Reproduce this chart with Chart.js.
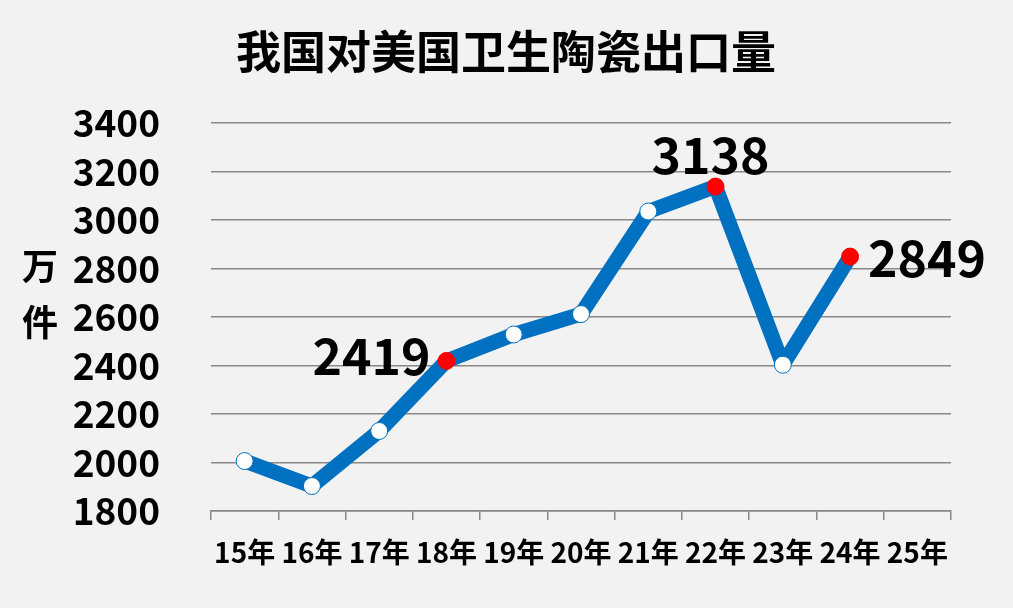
<!DOCTYPE html>
<html>
<head>
<meta charset="utf-8">
<script src="https://cdn.jsdelivr.net/npm/chart.js@4.4.0/dist/chart.umd.min.js"></script>
<style>
  html, body { margin: 0; padding: 0; background: #f2f2f2; }
  #wrap { width: 1013px; height: 608px; }
</style>
</head>
<body>
<div id="wrap"><canvas id="myChart" width="1013" height="608"></canvas></div>
<script>
// data
const years = ['15年', '16年', '17年', '18年', '19年', '20年', '21年', '22年', '23年', '24年', '25年'];
const exportVolume = [2006, 1903, 2130, 2419, 2528, 2612, 3035, 3138, 2403, 2849, null];
const labelledPoints = [3, 7, 9];           // points shown in red with their value
const labelSides = ['left', 'top', 'right']; // where each value label sits
const chartTitle = '我国对美国卫生陶瓷出口量';
const unitLabel = ['万', '件'];
const yMin = 1800, yMax = 3400, yStep = 200;

const FONT = '"Noto Sans CJK SC", "Noto Sans", sans-serif';
const BLUE = '#0070c0';

const pointFill = exportVolume.map((v, i) => labelledPoints.includes(i) ? '#ff0000' : '#ffffff');
const pointEdge = exportVolume.map((v, i) => labelledPoints.includes(i) ? '#ff0000' : BLUE);
const pointSize = exportVolume.map((v, i) => labelledPoints.includes(i) ? 8.5 : 8.5);

const textPlugin = {
    id: 'text_plugin',
    afterDatasetsDraw: (chart) => {
        const {ctx} = chart;
        const meta = chart.getDatasetMeta(0);
        ctx.save();
        ctx.fillStyle = '#000';

        // title
        ctx.font = 'bold 45px ' + FONT;
        ctx.textAlign = 'center';
        ctx.textBaseline = 'middle';
        ctx.fillText(chartTitle, 506, 52);

        // unit, stacked vertically
        ctx.font = 'bold 36px ' + FONT;
        ctx.fillText(unitLabel[0], 40, 266);
        ctx.fillText(unitLabel[1], 40, 322);

        // value labels
        ctx.font = 'bold 50px ' + FONT;
        labelledPoints.forEach((idx, k) => {
            const pt = meta.data[idx];
            const side = labelSides[k];
            const text = String(exportVolume[idx]);
            if (side === 'left') {
                ctx.textAlign = 'right';
                ctx.fillText(text, pt.x - 16, pt.y - 5);
            } else if (side === 'top') {
                ctx.textAlign = 'center';
                ctx.fillText(text, pt.x - 5, pt.y - 32);
            } else {
                ctx.textAlign = 'left';
                ctx.fillText(text, pt.x + 18, pt.y + 1);
            }
        });
        ctx.restore();
    }
};

const ctx = document.getElementById('myChart').getContext('2d');
new Chart(ctx, {
    type: 'line',
    data: {
        labels: years,
        datasets: [{
            label: '出口量',
            data: exportVolume,
            borderColor: BLUE,
            borderWidth: 15,
            borderJoinStyle: 'round',
            borderCapStyle: 'round',
            tension: 0,
            pointBackgroundColor: pointFill,
            pointBorderColor: pointEdge,
            pointBorderWidth: 1,
            pointRadius: pointSize,
            pointHoverRadius: pointSize
        }]
    },
    options: {
        responsive: false,
        animation: false,
        events: [],
        layout: { padding: { top: 123, right: 62, bottom: 0, left: 0 } },
        plugins: {
            legend: { display: false },
            title: { display: false },
            tooltip: { enabled: false }
        },
        scales: {
            x: {
                type: 'category',
                offset: true,
                afterFit: (scale) => { scale.height = 97; },
                grid: {
                    offset: true,
                    drawOnChartArea: false,
                    drawTicks: true,
                    tickLength: 9,
                    color: '#888888',
                    lineWidth: 1.5
                },
                border: { display: true, color: '#888888', width: 1.5 },
                ticks: {
                    color: '#000',
                    padding: 16,
                    maxRotation: 0,
                    autoSkip: false,
                    font: { family: FONT, size: 28, weight: 'bold' }
                }
            },
            y: {
                min: yMin,
                max: yMax,
                afterFit: (scale) => { scale.width = 211; },
                grid: {
                    drawTicks: false,
                    color: '#888888',
                    lineWidth: 1.5
                },
                border: { display: false },
                ticks: {
                    stepSize: yStep,
                    color: '#000',
                    padding: 51,
                    callback: (value) => String(value),
                    font: { family: FONT, size: 37, weight: 'bold' }
                }
            }
        }
    },
    plugins: [textPlugin]
});
</script>
</body>
</html>
